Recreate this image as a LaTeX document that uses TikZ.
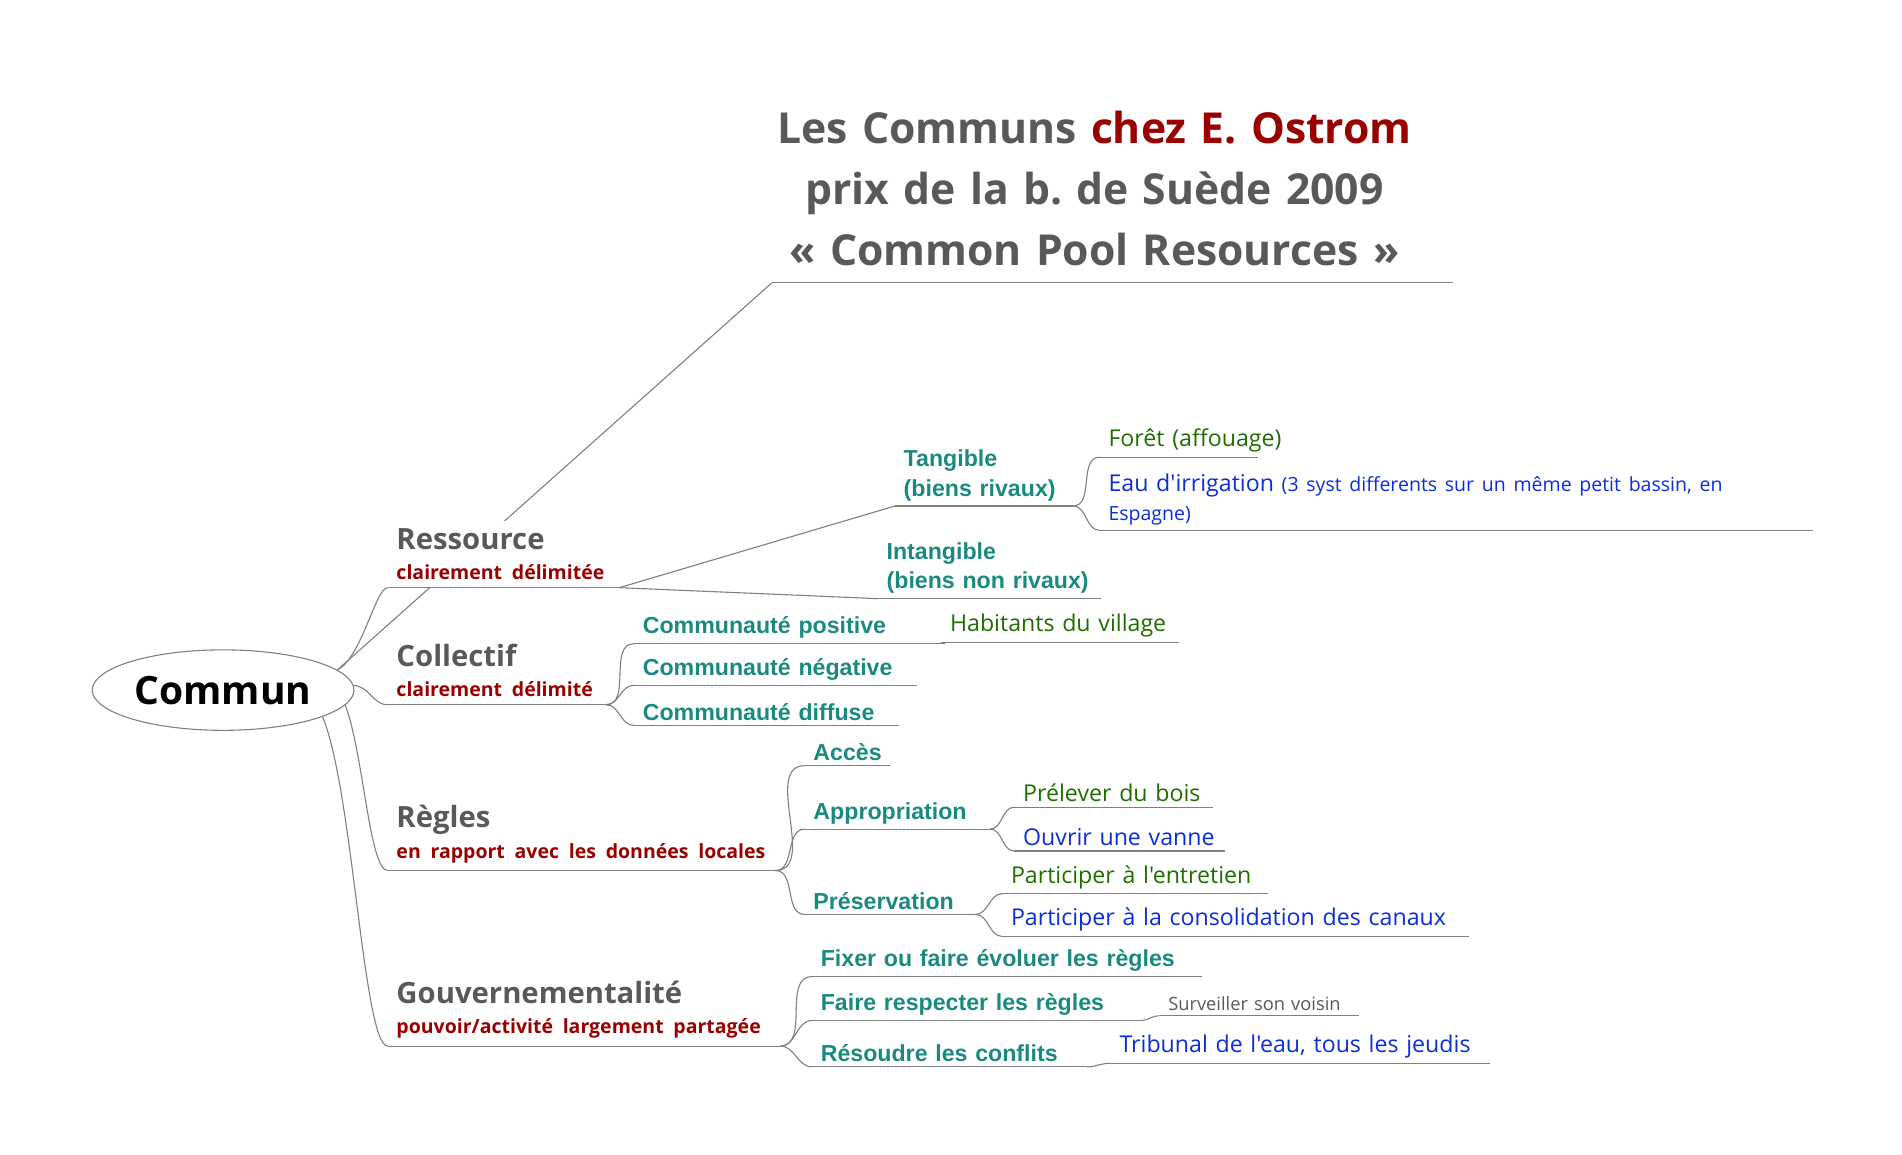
\documentclass[tikz,border=0pt]{standalone}
\usepackage{fontspec}
\setmainfont{Open Sans}[Ligatures=TeXOff]
\newfontfamily\arialf{Liberation Sans}[Ligatures=TeXOff]
\usetikzlibrary{shapes.geometric,calc}
\frenchspacing
\definecolor{greytxt}{HTML}{595959}
\definecolor{redtxt}{HTML}{990000}
\definecolor{tealtxt}{HTML}{1A8A80}
\definecolor{greentxt}{HTML}{1F6E00}
\definecolor{bluetxt}{HTML}{0A2ED8}
\definecolor{linecol}{HTML}{7F7F7F}
\tikzset{
  topic/.style={anchor=south west, inner xsep=7pt, inner ysep=4pt, align=left, text width=700pt},
  maintopic/.style={topic, inner ysep=6pt, font=\bfseries\fontsize{24}{30}\selectfont, text=greytxt},
  sub/.style={topic, font=\arialf\bfseries\fontsize{19}{24}\selectfont, text=tealtxt},
  leafg/.style={topic, font=\fontsize{19}{24}\selectfont, text=greentxt},
  leafb/.style={topic, font=\fontsize{19}{24}\selectfont, text=bluetxt},
  branch/.style={draw=linecol, line width=0.9pt},
}
\newcommand{\subtl}[1]{{\color{redtxt}\fontsize{16}{20}\selectfont #1}}
\begin{document}
\begin{tikzpicture}[x=1pt,y=-1pt]
  \useasboundingbox (0,0) rectangle (1560,947);

  % root
  \node (commun) [ellipse, draw=linecol, line width=0.9pt, minimum width=212pt, minimum height=66pt,
    font=\bfseries\fontsize{32}{38}\selectfont] at (183,566) {Commun};

  % title
  \node (title) [anchor=south west, inner sep=0pt, text width=559pt, align=center,
    font=\bfseries\fontsize{35}{50}\selectfont, text=greytxt]
    at (618,218) {Les Communs {\color{redtxt}chez E. Ostrom}\\prix de la b. de Suède 2009\\« Common Pool Resources »};
  \coordinate (title-w) at (633,232);
  \draw[branch] (title-w) -- ++(559,0);
  \draw[branch] (commun.10) -- (title-w);

  % main topics
  \node (ressource) [maintopic, fill=white, text width=190pt] at (318,482) {Ressource\\[-5pt]\subtl{clairement délimitée}};
  \node (collectif) [maintopic] at (318,578) {Collectif\\[-5pt]\subtl{clairement délimité}};
  \node (regles) [maintopic] at (318,714) {Règles\\[-5pt]\subtl{en rapport avec les données locales}};
  \node (gouv) [maintopic] at (318,858) {Gouvernementalité\\[-5pt]\subtl{pouvoir/activité largement partagée}};

  % Ressource
  \node (tangible) [sub] at (734,415) {Tangible\\(biens rivaux)};
  \node (intangible) [sub] at (720,491) {Intangible\\(biens non rivaux)};
  \node (foret) [leafg] at (902,375) {Forêt (affouage)};
  \node (eau) [leafb] at (902,435) {Eau d'irrigation {\fontsize{16}{24}\selectfont (3 syst differents sur un même petit bassin, en\\Espagne)}};

  % Collectif
  \node (positive) [sub] at (520,528) {Communauté positive};
  \node (negative) [sub] at (520,562) {Communauté négative};
  \node (diffuse) [sub] at (520,595) {Communauté diffuse};
  \node (habitants) [leafg] at (772,527) {Habitants du village};

  % Regles
  \node (acces) [sub] at (660,628) {Accès};
  \node (appro) [sub] at (660,680) {Appropriation};
  \node (preserv) [sub] at (660,750) {Préservation};
  \node (prelever) [leafg] at (832,662) {Prélever du bois};
  \node (vanne) [leafb] at (832,698) {Ouvrir une vanne};
  \node (entretien) [leafg] at (822,733) {Participer à l'entretien};
  \node (canaux) [leafb] at (822,768) {Participer à la consolidation des canaux};

  % Gouvernementalite
  \node (fixer) [sub] at (666,801) {Fixer ou faire évoluer les règles};
  \node (faire) [sub] at (666,837) {Faire respecter les règles};
  \node (resoudre) [sub] at (666,875) {Résoudre les conflits};
  \node (surveiller) [topic, font=\fontsize{15}{20}\selectfont, text=greytxt] at (951,833) {Surveiller son voisin};
  \node (tribunal) [leafb] at (911,872) {Tribunal de l'eau, tous les jeudis};

  % underlines
  \foreach \n/\w in {ressource/190,collectif/179,regles/318,gouv/322,tangible/146,intangible/183,foret/130,
      eau/585,positive/255,negative/232,diffuse/217,habitants/195,acces/70,appro/152,preserv/140,prelever/163,
      vanne/173,entretien/218,canaux/383,fixer/320,faire/270,resoudre/225,surveiller/164,tribunal/311}
    \draw[branch] (\n.south west) -- ++(\w,0) coordinate (\n-e);

  % connectors
  \draw[branch] (commun.10) .. controls +(20,-10) and +(-10,0) .. (ressource.south west);
  \draw[branch] (commun.2) to[out=0,in=180] (collectif.south west);
  \draw[branch] (commun.-7) .. controls +(15,40) and +(-15,0) .. (regles.south west);
  \draw[branch] (commun.-15) .. controls +(25,60) and +(-20,0) .. (gouv.south west);
  \draw[branch] (ressource-e) -- (tangible.south west);
  \draw[branch] (ressource-e) -- (intangible.south west);
  \foreach \c in {foret,eau}
    \draw[branch] (tangible-e) to[out=0,in=180] (\c.south west);
  \foreach \c in {positive,negative,diffuse}
    \draw[branch] (collectif-e) to[out=0,in=180] (\c.south west);
  \draw[branch] (positive-e) -- (habitants.south west);
  \foreach \c in {acces,appro,preserv}
    \draw[branch] (regles-e) to[out=0,in=180] (\c.south west);
  \foreach \c in {prelever,vanne}
    \draw[branch] (appro-e) to[out=0,in=180] (\c.south west);
  \foreach \c in {entretien,canaux}
    \draw[branch] (preserv-e) to[out=0,in=180] (\c.south west);
  \foreach \c in {fixer,faire,resoudre}
    \draw[branch] (gouv-e) to[out=0,in=180] (\c.south west);
  \draw[branch] (faire-e) to[out=0,in=180] (surveiller.south west);
  \draw[branch] (resoudre-e) to[out=0,in=180] (tribunal.south west);
\end{tikzpicture}
\end{document}
